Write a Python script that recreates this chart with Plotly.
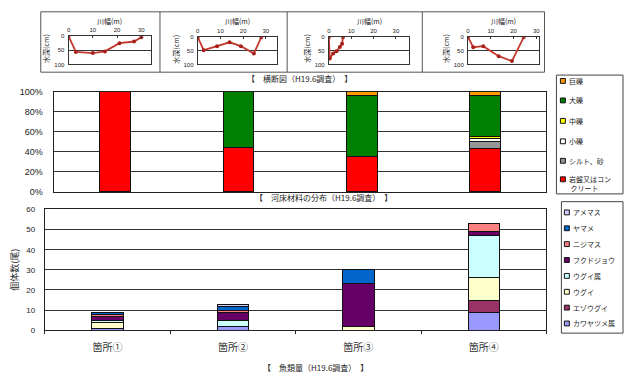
import plotly.graph_objects as go

W, H = 626, 380
def px(x): return x / W
def py(y): return 1 - y / H

# ---------------- data ----------------
# cross sections (川幅 m, 水深 cm)
cs_x = [
    [0, 3, 10, 15, 21, 27, 30],
    [0, 2.6, 8.5, 14, 19, 24.7, 28],
    [0, 0.4, 1.9, 3.4, 4.9, 5.9, 6.3],
    [0, 2.3, 6.7, 13.5, 19.3, 24.5],
]
cs_depth = [
    [0, 56, 60, 54, 25, 19, 4],
    [0, 48, 33, 19, 33, 60, 0],
    [0, 78, 60, 52, 36, 24, 0],
    [0, 37, 33, 70, 88, 0],
]
cs_ticks = [0, 10, 20, 30]
depth_ticks = [0, 50, 100]

sites = ['箇所①', '箇所②', '箇所③', '箇所④']

# river bed material (%), stacked bottom -> top
bed_names = ['岩盤又はコンクリート', 'シルト、砂', '小礫', '中礫', '大礫', '巨礫']
bed_legend = ['岩盤又はコン<br> クリート', 'シルト、砂', '小礫', '中礫', '大礫', '巨礫']
bed_values = [
    [100, 44, 35, 43],
    [0, 0, 0, 7.5],
    [0, 0, 0, 2.5],
    [0, 0, 0, 2.5],
    [0, 56, 61.5, 41],
    [0, 0, 3.5, 3.5],
]
bed_colors = ['#FF0000', '#969696', '#FFFFFF', '#FFFF00', '#008000', '#FF9900']
pct_ticks = [0, 20, 40, 60, 80, 100]

# fish counts, stacked bottom -> top
fish_names = ['カワヤツメ属', 'エゾウグイ', 'ウグイ', 'ウグイ属', 'フクドジョウ', 'ニジマス', 'ヤマメ', 'アメマス']
fish_values = [
    [1, 2, 0, 9],
    [0, 0, 0, 6],
    [3, 0, 2, 11],
    [1, 3, 0, 21],
    [2, 4, 21, 2],
    [1, 1, 0, 4],
    [1, 2, 7, 0],
    [0, 1, 0, 0],
]
fish_colors = ['#9999FF', '#993366', '#FFFFCC', '#CCFFFF', '#660066', '#FF8080', '#0066CC', '#CCCCFF']
count_ticks = [0, 10, 20, 30, 40, 50, 60]

FONT = 'Liberation Sans, Arial, Noto Sans CJK JP'
JFONT = 'Noto Sans CJK JP, sans-serif'
TXT = '#222222'

fig = go.Figure()

# ---------- cross-section small charts ----------
boxes = [(67, 150, 32, 61), (197, 277, 33, 61), (329, 410, 33, 61), (469, 540, 33, 61)]
xmax = [34, 35, 36, 31]
layout_axes = {}
for i in range(4):
    k = '' if i == 0 else str(i + 1)
    fig.add_trace(go.Scatter(
        x=cs_x[i], y=cs_depth[i], mode='lines+markers',
        line=dict(color='#C23A2E', width=1.8),
        marker=dict(size=4, color='#A8201C'),
        xaxis='x' + k, yaxis='y' + k, showlegend=False, hoverinfo='skip'))
    x0, x1, y0, y1 = boxes[i]
    layout_axes['xaxis' + k] = dict(
        domain=[px(x0), px(x1)], range=[0, xmax[i]], side='top',
        tickvals=cs_ticks, tickfont=dict(size=6, color=TXT, family=FONT),
        ticks='inside', ticklen=2, tickcolor='#333',
        showline=True, mirror=True, linecolor='#333', linewidth=1,
        showgrid=False, zeroline=False, anchor='y' + k, fixedrange=True,
        ticklabelstandoff=1)
    layout_axes['yaxis' + k] = dict(
        domain=[py(y1), py(y0)], range=[100, 0],
        tickvals=depth_ticks, tickfont=dict(size=6, color=TXT, family=FONT),
        showline=True, mirror=True, linecolor='#333', linewidth=1,
        showgrid=True, gridcolor='#333', gridwidth=1, zeroline=False,
        anchor='x' + k, fixedrange=True, ticklabelstandoff=2)

# ---------- river bed material chart ----------
for name, vals, col in zip(bed_names, bed_values, bed_colors):
    fig.add_trace(go.Bar(
        x=sites, y=vals, name=name, width=0.25,
        marker=dict(color=col, line=dict(color='#111', width=1)),
        xaxis='x5', yaxis='y5', showlegend=False, hoverinfo='skip'))

# ---------- fish chart ----------
for name, vals, col in zip(fish_names, fish_values, fish_colors):
    fig.add_trace(go.Bar(
        x=sites, y=vals, name=name, width=0.25,
        marker=dict(color=col, line=dict(color='#111', width=1)),
        xaxis='x6', yaxis='y6', showlegend=False, hoverinfo='skip'))

layout_axes['xaxis5'] = dict(
    domain=[px(52), px(548)], anchor='y5', type='category',
    showticklabels=False, showline=True, mirror=True, linecolor='#222', linewidth=1,
    ticks='', showgrid=False, fixedrange=True)
layout_axes['yaxis5'] = dict(
    domain=[py(192), py(89)], anchor='x5', range=[0, 100],
    tickvals=pct_ticks, ticktext=[f'{v}%' for v in pct_ticks],
    tickfont=dict(size=9, color=TXT, family=FONT),
    showline=True, mirror=True, linecolor='#222', linewidth=1,
    showgrid=True, gridcolor='#333', gridwidth=1, zeroline=False, fixedrange=True,
    ticklabelstandoff=8)
layout_axes['xaxis6'] = dict(
    domain=[px(43), px(548)], anchor='y6', type='category',
    tickfont=dict(size=10, color='#333', family=JFONT),
    showline=True, mirror=True, linecolor='#222', linewidth=1,
    ticks='outside', ticklen=3, tickcolor='#222', tickson='boundaries',
    showgrid=False, fixedrange=True, ticklabelstandoff=8)
layout_axes['yaxis6'] = dict(
    domain=[py(334), py(210)], anchor='x6', range=[0, 60],
    tickvals=count_ticks, tickfont=dict(size=8, color=TXT, family=FONT),
    showline=True, mirror=True, linecolor='#222', linewidth=1,
    showgrid=True, gridcolor='#333', gridwidth=1, zeroline=False, fixedrange=True,
    ticklabelstandoff=7)

shapes = []
annotations = []

def note(text, x, y, size=7, angle=0, xanchor='center', align='center', color=TXT):
    annotations.append(dict(text=text, x=px(x), y=py(y), xref='paper', yref='paper',
                            xanchor=xanchor, yanchor='middle', align=align, textangle=angle,
                            showarrow=False, font=dict(size=size, color=color, family=JFONT)))

# frames around the cross sections
shapes.append(dict(type='rect', xref='paper', yref='paper', x0=px(39), x1=px(546),
                   y0=py(69), y1=py(7), line=dict(color='#555', width=1)))
for xv in [159, 287, 423]:
    shapes.append(dict(type='line', xref='paper', yref='paper', x0=px(xv), x1=px(xv),
                       y0=py(69), y1=py(7), line=dict(color='#555', width=1)))

for i in range(4):
    x0, x1, y0, y1 = boxes[i]
    note('川幅(m)', (x0 + x1) / 2, 16, size=7)
    note('水深(cm)', x0 - 22, (y0 + y1) / 2 - 2, size=7, angle=-90)

# captions
note('【　横断図（H19.6調査）　】', 299, 75, size=8)
note('【　河床材料の分布（H19.6調査）　】', 324, 198, size=8)
note('【　魚類量（H19.6調査）　】', 316, 372, size=8)

# y title of fish chart
note('個体数(尾)', 13, 272, size=9, angle=-90)

# legend: bed material (top -> bottom = reverse stack order)
shapes.append(dict(type='rect', xref='paper', yref='paper', x0=px(558), x1=px(625),
                   y0=py(194), y1=py(72), line=dict(color='#444', width=1)))
bed_leg_y = [78, 98, 119, 140, 160, 179]
for j, idx in enumerate(reversed(range(len(bed_names)))):
    yc = bed_leg_y[j]
    shapes.append(dict(type='rect', xref='paper', yref='paper', x0=px(562), x1=px(567),
                       y0=py(yc + 2.5), y1=py(yc - 2.5), fillcolor=bed_colors[idx],
                       line=dict(color='#111', width=1)))
    lab = bed_legend[idx]
    yy = yc + (4.5 if '<br>' in lab else 0)
    note(lab, 569, yy, size=7, xanchor='left', align='left')

# legend: fish
shapes.append(dict(type='rect', xref='paper', yref='paper', x0=px(563), x1=px(625),
                   y0=py(337), y1=py(202), line=dict(color='#444', width=1)))
for j, idx in enumerate(reversed(range(len(fish_names)))):
    yc = 213 + j * 16.3
    shapes.append(dict(type='rect', xref='paper', yref='paper', x0=px(566), x1=px(571),
                       y0=py(yc + 2.5), y1=py(yc - 2.5), fillcolor=fish_colors[idx],
                       line=dict(color='#111', width=1)))
    note(fish_names[idx], 573, yc, size=7, xanchor='left', align='left')

fig.update_layout(
    width=W, height=H, autosize=False,
    margin=dict(l=0, r=0, t=0, b=0, pad=0),
    paper_bgcolor='white', plot_bgcolor='white',
    barmode='stack', showlegend=False,
    font=dict(family=FONT, color=TXT),
    shapes=shapes, annotations=annotations,
    **layout_axes)

fig.write_html('out.html', config={'displayModeBar': False})
